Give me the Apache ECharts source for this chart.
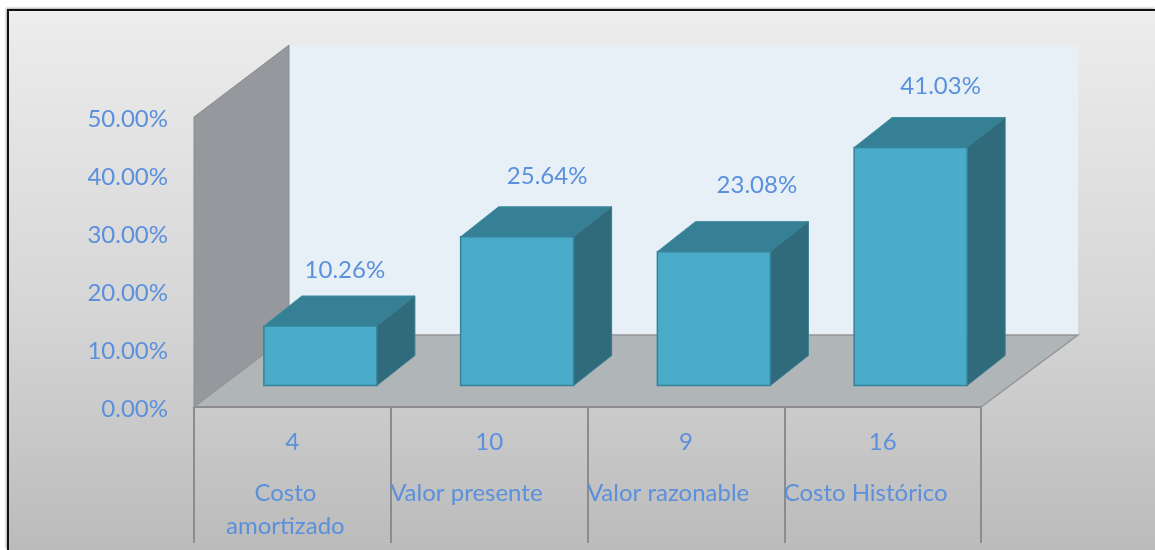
<!DOCTYPE html>
<html>
<head>
<meta charset="utf-8">
<script src="https://cdn.jsdelivr.net/npm/echarts@6/dist/echarts.min.js"></script>
<style>
  html, body { margin: 0; padding: 0; background: #fff; }
  .frame {
    position: absolute; left: 7px; top: 9px; width: 1148px; height: 541px;
    box-sizing: border-box;
    border-top: 2px solid #111; border-left: 2px solid #111;
    box-shadow: -1px -1px 2px #aaa;
    background: linear-gradient(#ededed, #d6d6d6 55%, #bbbbbb);
  }
  #main { position: absolute; left: 0; top: 0; width: 1155px; height: 550px; }
</style>
</head>
<body>
<div class="frame"></div>
<div id="main"></div>
<script>
const categories = ['Costo amortizado', 'Valor presente', 'Valor razonable', 'Costo Histórico'];
const counts = [4, 10, 9, 16];
const shares = [0.1026, 0.2564, 0.2308, 0.4103];
const yTicks = { min: 0, max: 0.5, interval: 0.1 };

const textColor = '#5a90dc';
const fontFamily = 'Lato, "Noto Sans", sans-serif';
const fontSize = 24;

// desplazamientos de la perspectiva
const wallDepth = [95, -72];
const wallRightExtra = 2;
const barShift = [28, -21.5];
const barDepth = [38, -30];
const barWidth = 113;
const labelShift = [[24.5, -26], [30, -31], [43, -36], [30, -31]];

const pct = v => (v * 100).toFixed(2) + '%';

const renderWalls = (params, api) => {
  const g = params.coordSys;
  const [dx, dy] = wallDepth;
  const top = api.coord([0, yTicks.max])[1];
  const base = api.coord([0, 0])[1];
  const left = g.x, right = g.x + g.width;
  const backRight = right + dx + wallRightExtra;
  return {
    type: 'group',
    children: [
      { type: 'polygon', shape: { points: [[left + dx, top + dy], [backRight, top + dy], [backRight, base + dy], [left + dx, base + dy]] },
        style: { fill: '#e8f0f7' } },
      { type: 'polygon', shape: { points: [[left, top], [left + dx, top + dy], [left + dx, base + dy], [left, base]] },
        style: { fill: '#95989c', stroke: '#8c8c8c', lineWidth: 1 } },
      { type: 'polygon', shape: { points: [[left, base], [right, base], [backRight, base + dy], [left + dx, base + dy]] },
        style: { fill: '#b0b5b8', stroke: '#949698', lineWidth: 1.5 } },
      { type: 'line', shape: { x1: left, y1: base, x2: right, y2: base },
        style: { stroke: '#8c8c8c', lineWidth: 2 } }
    ]
  };
};

const renderBar = (params, api) => {
  const idx = api.value(0);
  const bottom = api.coord([idx, 0]);
  const topPt = api.coord([idx, api.value(1)]);
  const x0 = bottom[0] + barShift[0] - barWidth / 2;
  const x1 = x0 + barWidth;
  const yb = bottom[1] + barShift[1];
  const yt = topPt[1] + barShift[1];
  const [dx, dy] = barDepth;
  const shift = labelShift[params.dataIndex];
  return {
    type: 'group',
    children: [
      { type: 'polygon', shape: { points: [[x0, yt], [x1, yt], [x1 + dx, yt + dy], [x0 + dx, yt + dy]] },
        style: { fill: '#368096', stroke: '#3f8ba1', lineWidth: 1 } },
      { type: 'polygon', shape: { points: [[x1, yt], [x1 + dx, yt + dy], [x1 + dx, yb + dy], [x1, yb]] },
        style: { fill: '#2f6b7b', stroke: '#3a7c90', lineWidth: 1 } },
      { type: 'rect', shape: { x: x0, y: yt, width: barWidth, height: yb - yt },
        style: { fill: '#4aacc9', stroke: '#35829a', lineWidth: 1.5 } },
      { type: 'text',
        style: {
          x: (x0 + x1) / 2 + shift[0], y: yt + dy + shift[1], text: pct(api.value(1)),
          fill: textColor, font: fontSize + 'px ' + fontFamily, align: 'center', verticalAlign: 'middle'
        } }
    ]
  };
};

const myChart = echarts.init(document.getElementById('main'));
const option = {
  backgroundColor: 'transparent',
  animation: false,
  grid: { left: 194, right: 174, top: 117, bottom: 143 },
  xAxis: [
    {
      type: 'category',
      data: counts.map(String),
      position: 'bottom',
      axisLine: { show: false },
      axisTick: { show: true, length: 136, lineStyle: { color: '#8c8c8c', width: 2 } },
      axisLabel: { color: textColor, fontSize, fontFamily, margin: 23, interval: 0 }
    },
    {
      type: 'category',
      data: categories,
      position: 'bottom',
      axisLine: { show: false },
      axisTick: { show: false },
      axisLabel: {
        color: textColor, fontSize, fontFamily, margin: 70, interval: 0, hideOverlap: false,
        formatter: (v, i) => i === 0
          ? v.split(' ').map(w => '{c|' + w + '}').join('\n')
          : '{l|' + v + '}',
        rich: {
          c: { width: 183, align: 'center', padding: [0, 14, 0, 0], lineHeight: 33, color: textColor, fontSize, fontFamily },
          l: { width: 197, align: 'left', padding: [0, 1, 0, 0], lineHeight: 33, color: textColor, fontSize, fontFamily }
        }
      }
    }
  ],
  yAxis: {
    type: 'value',
    min: yTicks.min,
    max: yTicks.max,
    interval: yTicks.interval,
    axisLine: { show: false },
    axisTick: { show: false },
    splitLine: { show: false },
    axisLabel: {
      color: textColor, fontSize, fontFamily, margin: 26,
      formatter: v => '{a|' + pct(v) + '}',
      rich: { a: { padding: [4, 0, 0, 0], color: textColor, fontSize, fontFamily } }
    }
  },
  series: [
    { type: 'custom', name: 'planos', renderItem: renderWalls, data: [[0, 0]], silent: true, z: 1 },
    {
      type: 'custom',
      name: 'Porcentaje',
      renderItem: renderBar,
      encode: { x: 0, y: 1 },
      data: shares.map((v, i) => [i, v]),
      z: 2
    }
  ]
};
myChart.setOption(option);
</script>
</body>
</html>
